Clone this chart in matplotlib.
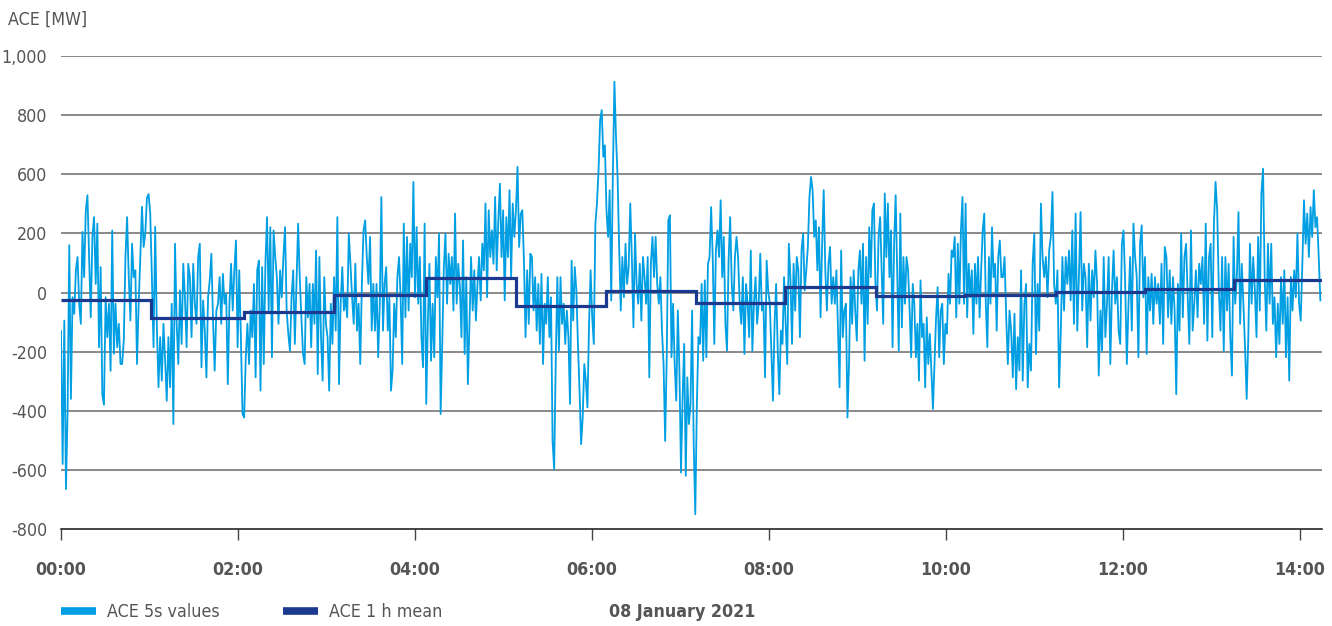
import numpy as np
import matplotlib
matplotlib.use("Agg")
import matplotlib.pyplot as plt
from matplotlib import font_manager
from matplotlib.lines import Line2D

# the chart uses a narrow sans; take a condensed face if one is installed
narrow = [f for f in font_manager.fontManager.ttflist
          if f.stretch in ('condensed', 'semi-condensed', 'extra-condensed')
          or 'Narrow' in f.name or 'Condensed' in f.name]
if narrow:
    fam = narrow[0].name
    plt.rcParams['font.family'] = [fam, 'DejaVu Sans']
    plt.rcParams['font.stretch'] = narrow[0].stretch
    fs = 12.8
else:
    plt.rcParams['font.family'] = ['Roboto', 'DejaVu Sans']
    fs = 12.5

# ACE 5s values [MW], one list per stretch of time
seg_hours = [0.0, 1.774, 3.548, 5.322, 7.096, 8.870, 10.644, 12.418, 14.25]

ace_a = [-130, -580, -95, -665, -400, 160, -360, -16, -72, 75, 120, -38, -106, 205, 52, 278, 329, 120,
         -84, 188, 255, 29, 233, -185, 86, -345, -380, -16, -151, -38, -265, 210, -207, -38, -185, -106,
         -242, -242, -162, 120, 255, 52, -95, 165, 52, 75, -242, -38, 120, 290, 154, 199, 320, 333, 267,
         52, -185, 222, -117, -320, -151, -298, -106, -230, -366, -151, -320, -38, -445, 165, -106, -242,
         7, -174, 97, -16, -185, 97, 52, -151, 97, -38, -106, 120, 165, -253, -27, -129, -287, -16, 41,
         131, -95, -264, -61]
ace_b = [-38, 52, -106, 63, -38, -5, -310, -38, 97, -61, 75, 176, -185, 75, -151, -411, -423, -219,
         -106, -242, -61, -151, 29, -287, 75, 108, -332, 86, -242, 97, 255, -61, 221, -219, 210, 120, 52,
         -106, 75, -16, 120, 221, -61, -140, -197, -16, 75, -174, 29, 233, 52, -84, -208, -242, 52, -84,
         29, -185, 29, -106, 142, -276, 120, -151, -298, 52, -106, -151, -332, -38, -174, 52, -129, 255,
         -310, -38, 86, -61, -16, -84, 199, 97, -16, -106, 97, -129, -38, -242, 29, 210, 244, 120, 29,
         188, -129, 29]
ace_c = [-129, 29, -219, -38, 323, -129, 29, 86, -129, -16, -332, -264, -38, -151, 52, 120, -16, -242,
         233, -84, 188, -61, 165, 52, 374, -16, 221, -38, 120, -151, -253, 233, -377, -106, 97, -231,
         -38, -219, 120, -16, 199, -411, -174, 86, 199, -38, 131, 29, 120, -61, 267, -38, 97, 18, -151,
         176, -208, 52, -310, -106, 120, -61, 75, -95, 29, 120, -27, 165, 75, 301, -16, 278, 120, 210,
         97, 323, 75, 244, 368, 120, 278, -27, 255, 120, 346, 52, 301, 188, 278, 425, 154, 267, 278, 108,
         -151, 75, -106, 131]
ace_d = [120, -61, 52, -129, 29, -174, 63, -242, -38, -106, 52, -151, -16, -502, -598, -231, 52, -197,
         52, -106, -38, -174, -61, -151, -377, 108, -95, 86, 7, -174, -332, -513, -423, -242, -298, -389,
         -106, 75, -84, -174, 233, 301, 414, 583, 617, 459, 498, 278, 188, 346, -27, 391, 713, 527, 391,
         154, -61, 120, -16, 165, 29, 86, 301, 120, -118, 199, 29, -38, 97, -95, 120, 52, -38, 120, -287,
         97, 188, 52, 188, 29, -38, 52, -129, -242, -502, -219, 244, 261, -219, -38, -242, -366, -61,
         -264, -609, -355, -174, -620, -287]
ace_e = [-445, -377, -61, -513, -750, -377, -151, -174, 29, -231, 41, -219, 97, 120, 289, 120, -174, 142,
         210, 120, 312, 52, 188, -106, -197, 108, 255, 29, -61, 120, 188, 120, -38, -106, 52, -208, 29,
         -38, -151, 142, -197, -38, 52, -106, -38, 131, -61, -38, -287, 108, 7, -38, -197, -366, -106,
         29, -197, -344, -129, -174, 52, -106, -242, 165, 52, -174, 97, -61, 120, 75, -151, 142, 199, 7,
         75, 154, 323, 391, 346, 188, 244, 75, 221, -84, 165, 346, 75, -61, 97, 154, -38, 52, -38, 75,
         -129, -321, 142, -151, -61]
ace_f = [-38, -423, -242, 52, -106, 75, -61, -163, 75, 142, -38, 165, -231, 120, -106, 221, 52, 278,
         301, 29, -61, 188, 255, 75, -106, 335, 120, 301, 52, 210, -185, 165, 329, 75, -197, 267, -118,
         120, -38, 120, 75, -61, -219, 29, -38, -219, -106, -298, 41, -151, -106, -321, -84, -242, -140,
         -264, -394, -242, -84, 18, -219, -61, -38, -242, -106, -140, 63, -38, 142, 120, 188, -84, 165,
         -38, 210, 323, -38, 301, -84, 97, -16, 75, -140, 97, -38, 120, -84, 75, 210, 267, -38, -185,
         120, -38, 221, 52, 97, -129, 120, 176, 52]
ace_g = [52, 120, -84, -242, -61, -129, -287, -72, -327, -151, -264, 75, -298, -38, 29, -321, -174,
         -264, 97, 199, -208, 29, -129, 301, 120, 52, 120, -16, 142, 188, 340, 29, -38, 75, -321, -140,
         120, -61, 120, 29, 142, -27, 210, -106, 267, -129, 52, 272, -61, 97, 52, -185, 97, -95, 75, -16,
         142, 29, -281, -61, -197, 120, -151, -38, 120, -242, 7, 142, -38, 52, -129, -174, 165, 210, 29,
         -242, -38, 120, -129, 233, 120, 52, -219, 165, 227, -16, 120, -208, 52, -61, 63, -106, 52, -38,
         29]
ace_h = [-106, 97, -174, 154, 120, -84, 75, -106, 52, -61, -344, 29, -129, 199, -84, 120, 165, -16,
         -174, 210, -129, -38, 75, -84, 97, 29, 120, -106, 233, -163, 120, 165, -151, 233, 374, 278, 7,
         -129, 120, -197, 120, -61, 97, -151, -281, 188, -38, 52, 272, -106, 97, -38, -185, -360, -151,
         165, -38, 120, 7, -151, 188, -61, 335, 419, 52, -129, 165, -38, 165, -106, -16, -219, -38, -174,
         52, -106, 75, -219, -16, -298, 52, -61, 75, -16, 199, -38, -95, 97, 312, 165, 267, 120, 289, 188,
         346, 221, 255, 120, -27]

# ACE 1 h mean [MW]
mean_edges = [0.0, 1.017, 2.068, 3.085, 4.124, 5.141, 6.158, 7.175, 8.181, 9.209, 10.215, 11.243,
              12.249, 13.254, 14.25]
mean_values = [-27, -86, -66, -10, 49, -45, 5, -35, 17, -11, -8, 2, 12, 41]

y_ticks = [-800, -600, -400, -200, 0, 200, 400, 600, 800]
y_labels = ['-800', '-600', '-400', '-200', '0', '200', '600', '800', '1,000']
x_ticks = [0, 2, 4, 6, 8, 10, 12, 14]
x_labels = ['00:00', '02:00', '04:00', '06:00', '08:00', '10:00', '12:00', '14:00']

light = '#009fe3'
dark = '#1b3a8f'
txt = '#555555'

segs = [ace_a, ace_b, ace_c, ace_d, ace_e, ace_f, ace_g, ace_h]
t = np.concatenate([np.linspace(seg_hours[i], seg_hours[i + 1], len(s), endpoint=False)
                    for i, s in enumerate(segs)])
v = np.concatenate(segs)

fig = plt.figure(figsize=(13.32, 6.26), dpi=100)
ax = fig.add_axes([61 / 1332, 1 - 529 / 626, (1322 - 61) / 1332, (529 - 56) / 626])

for yt in y_ticks[1:]:
    ax.axhline(yt, color='#6a6a6a', lw=1.1, zorder=1)
ax.plot(t, v, color=light, lw=1.3, zorder=2)
ax.stairs(mean_values, mean_edges, color=dark, lw=2.3, baseline=None, zorder=3)

ax.set_xlim(0, 14.25)
ax.set_ylim(-800, 800)
ax.set_yticks(y_ticks)
ax.set_yticklabels(y_labels)
ax.set_xticks(x_ticks)
ax.set_xticklabels(x_labels)
for s in ['top', 'right', 'left']:
    ax.spines[s].set_visible(False)
ax.spines['bottom'].set_color('#111111')
ax.spines['bottom'].set_linewidth(1.1)
ax.tick_params(axis='y', length=0, pad=10, labelsize=fs, labelcolor=txt)
ax.tick_params(axis='x', length=8, width=1, color='#444444', pad=15, labelsize=fs, labelcolor=txt)
for lab in ax.get_xticklabels():
    lab.set_fontweight('semibold')

fig.text(8 / 1332, 1 - 20 / 626, 'ACE [MW]', fontsize=fs, color=txt, va='center', ha='left')

handles = [Line2D([], [], color=light, lw=5.5, solid_capstyle='butt'),
           Line2D([], [], color=dark, lw=5.5, solid_capstyle='butt')]
fig.legend(handles, ['ACE 5s values', 'ACE 1 h mean'], loc='center left',
           bbox_to_anchor=(61 / 1332, 1 - 612 / 626), ncol=2, frameon=False,
           fontsize=fs, labelcolor=txt, handlelength=35 / (fs * 1.39), handletextpad=0.6,
           columnspacing=64 / (fs * 1.39), borderpad=0, borderaxespad=0)
fig.text(682 / 1332, 1 - 612 / 626, '08 January 2021', fontsize=fs, fontweight='bold',
         color=txt, ha='center', va='center')

fig.savefig('out.png', dpi=100)
